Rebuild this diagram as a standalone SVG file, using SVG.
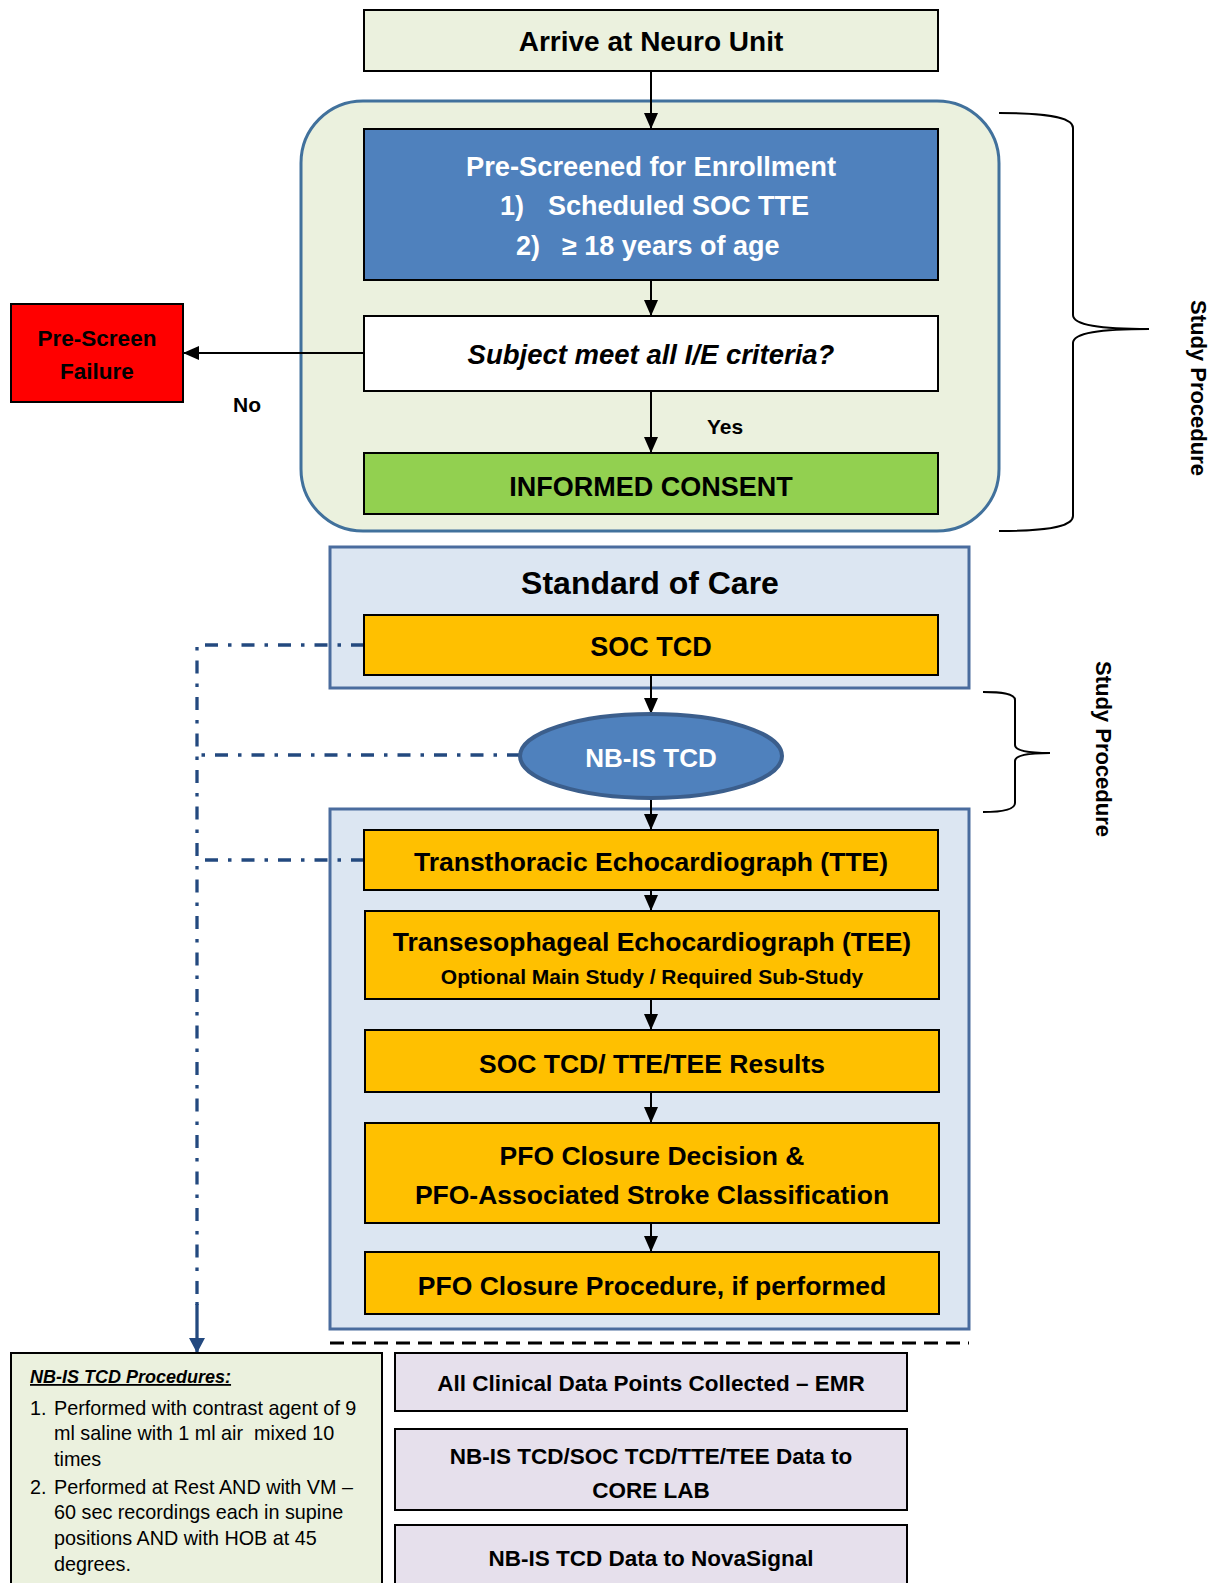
<svg xmlns="http://www.w3.org/2000/svg" width="1210" height="1583" viewBox="0 0 1210 1583">
<style>
text{font-family:"Liberation Sans",Arial,sans-serif;font-weight:bold;fill:#000}
.c{text-anchor:middle}
.w{fill:#fff}
.box{stroke:#000;stroke-width:2}
.y{fill:#FFC000}
.p{fill:#E6E0EC}
.g{fill:#EBF1DE}
.arr{stroke:#000;stroke-width:2;fill:none;marker-end:url(#ah)}
.dd{stroke:#23497F;stroke-width:3.3;fill:none;stroke-dasharray:13 10 3.5 10}
.n{font-weight:normal;font-size:19.8px;white-space:pre}
</style>
<defs>
<marker id="ah" viewBox="0 0 16 14" refX="16" refY="7" markerWidth="16" markerHeight="14" markerUnits="userSpaceOnUse" orient="auto">
<path d="M0,0 L16,7 L0,14 Z" fill="#000"/>
</marker>
<marker id="ahb" viewBox="0 0 15 16" refX="15" refY="8" markerWidth="15" markerHeight="16" markerUnits="userSpaceOnUse" orient="auto">
<path d="M0,0 L15,8 L0,16 Z" fill="#23497F"/>
</marker>
</defs>

<g id="study-container">
<rect x="301" y="101" width="698" height="430" rx="62" fill="#EBF1DE" stroke="#41719C" stroke-width="3"/>
</g>
<g id="soc-container">
<rect x="330" y="547" width="639" height="141" fill="#DCE6F2" stroke="#4A6C9E" stroke-width="3"/>
<text class="c" x="650" y="594" font-size="32">Standard of Care</text>
</g>
<g id="procedure-container">
<rect x="330" y="809" width="639" height="520" fill="#DCE6F2" stroke="#4A6C9E" stroke-width="3"/>
</g>

<g id="connectors">
<line class="arr" x1="651" y1="71" x2="651" y2="129"/>
<line class="arr" x1="651" y1="280" x2="651" y2="316"/>
<line class="arr" x1="651" y1="391" x2="651" y2="453"/>
<line class="arr" x1="364" y1="353" x2="183" y2="353"/>
<line class="arr" x1="651" y1="675" x2="651" y2="714"/>
<line class="arr" x1="651" y1="798" x2="651" y2="830"/>
<line class="arr" x1="651" y1="890" x2="651" y2="911"/>
<line class="arr" x1="651" y1="999" x2="651" y2="1030"/>
<line class="arr" x1="651" y1="1092" x2="651" y2="1123"/>
<line class="arr" x1="651" y1="1223" x2="651" y2="1252"/>
<path class="dd" d="M364,645 L197,645 L197,1305"/>
<path d="M197,1302 L197,1353" stroke="#23497F" stroke-width="3.3" marker-end="url(#ahb)"/>
<path class="dd" d="M520,755 L197,755"/>
<path class="dd" d="M364,860 L197,860"/>
<line x1="330" y1="1343" x2="969" y2="1343" stroke="#000" stroke-width="3" stroke-dasharray="14 8"/>
<text class="c" x="247" y="412" font-size="21">No</text>
<text class="c" x="725" y="434" font-size="21">Yes</text>
</g>

<g id="arrive">
<rect class="box g" x="364" y="10" width="574" height="61"/>
<text class="c" x="651" y="50.5" font-size="28">Arrive at Neuro Unit</text>
</g>
<g id="prescreened">
<rect class="box" x="364" y="129" width="574" height="151" fill="#4F81BD"/>
<text class="c w" x="651" y="175.5" font-size="27.3">Pre-Screened for Enrollment</text>
<text class="w" y="215" font-size="27"><tspan x="500">1)</tspan><tspan x="548">Scheduled SOC TTE</tspan></text>
<text class="w" y="255" font-size="27"><tspan x="516">2)</tspan><tspan x="562">≥ 18 years of age</tspan></text>
</g>
<g id="criteria">
<rect class="box" x="364" y="316" width="574" height="75" fill="#fff"/>
<text class="c" x="651" y="364" font-size="27.5" font-style="italic">Subject meet all I/E criteria?</text>
</g>
<g id="consent">
<rect class="box" x="364" y="453" width="574" height="61" fill="#92D050"/>
<text class="c" x="651" y="495.5" font-size="27">INFORMED CONSENT</text>
</g>
<g id="prescreen-failure">
<rect class="box" x="11" y="304" width="172" height="98" fill="#FF0000"/>
<text class="c" x="97" y="346" font-size="22.5">Pre-Screen</text>
<text class="c" x="97" y="379" font-size="22.5">Failure</text>
</g>

<g id="brace1">
<path d="M999,113 C1040,113 1073,116 1073,128 L1073,315 C1073,325 1100,329 1149,329 C1100,329 1073,333 1073,343 L1073,516 C1073,528 1040,531 999,531" fill="none" stroke="#000" stroke-width="2"/>
<text class="c" transform="translate(1198,388) rotate(90)" x="0" y="7" font-size="22">Study Procedure</text>
</g>
<g id="brace2">
<path d="M983,692 C1000,692 1015,693 1015,700 L1015,745 C1015,750 1025,753 1050,753 C1025,753 1015,756 1015,761 L1015,803 C1015,810 1000,812 983,812" fill="none" stroke="#000" stroke-width="2"/>
<text class="c" transform="translate(1103,749) rotate(90)" x="0" y="7" font-size="22">Study Procedure</text>
</g>

<g id="soc-tcd">
<rect class="box y" x="364" y="615" width="574" height="60"/>
<text class="c" x="651" y="656" font-size="27">SOC TCD</text>
</g>
<g id="nbis-tcd">
<ellipse cx="651" cy="756" rx="131" ry="42" fill="#4F81BD" stroke="#3B5E8C" stroke-width="4"/>
<text class="c w" x="651" y="767" font-size="26">NB-IS TCD</text>
</g>
<g id="tte">
<rect class="box y" x="364" y="830" width="574" height="60"/>
<text class="c" x="651" y="871" font-size="26.5">Transthoracic Echocardiograph (TTE)</text>
</g>
<g id="tee">
<rect class="box y" x="365" y="911" width="574" height="88"/>
<text class="c" x="652" y="951" font-size="26.5">Transesophageal Echocardiograph (TEE)</text>
<text class="c" x="652" y="983.5" font-size="21">Optional Main Study / Required Sub-Study</text>
</g>
<g id="results">
<rect class="box y" x="365" y="1030" width="574" height="62"/>
<text class="c" x="652" y="1073" font-size="26.5">SOC TCD/ TTE/TEE Results</text>
</g>
<g id="pfo-decision">
<rect class="box y" x="365" y="1123" width="574" height="100"/>
<text class="c" x="652" y="1164.5" font-size="26.5">PFO Closure Decision &amp;</text>
<text class="c" x="652" y="1204" font-size="26.5">PFO-Associated Stroke Classification</text>
</g>
<g id="pfo-procedure">
<rect class="box y" x="365" y="1252" width="574" height="62"/>
<text class="c" x="652" y="1295" font-size="26.5">PFO Closure Procedure, if performed</text>
</g>

<g id="notes">
<rect class="box g" x="11" y="1353" width="371" height="245"/>
<text x="30" y="1383" font-size="18" font-style="italic" text-decoration="underline">NB-IS TCD Procedures:</text>
<text class="n" x="30" y="1415">1.</text>
<text class="n" x="54" y="1415">Performed with contrast agent of 9</text>
<text class="n" x="54" y="1440">ml saline with 1 ml air  mixed 10</text>
<text class="n" x="54" y="1466">times</text>
<text class="n" x="30" y="1494">2.</text>
<text class="n" x="54" y="1494">Performed at Rest AND with VM –</text>
<text class="n" x="54" y="1519">60 sec recordings each in supine</text>
<text class="n" x="54" y="1545">positions AND with HOB at 45</text>
<text class="n" x="54" y="1571">degrees.</text>
</g>
<g id="emr">
<rect class="box p" x="395" y="1353" width="512" height="58"/>
<text class="c" x="651" y="1391" font-size="22.5">All Clinical Data Points Collected – EMR</text>
</g>
<g id="corelab">
<rect class="box p" x="395" y="1429" width="512" height="81"/>
<text class="c" x="651" y="1464" font-size="22.5">NB-IS TCD/SOC TCD/TTE/TEE Data to</text>
<text class="c" x="651" y="1498" font-size="22.5">CORE LAB</text>
</g>
<g id="novasignal">
<rect class="box p" x="395" y="1525" width="512" height="75"/>
<text class="c" x="651" y="1566" font-size="22.5">NB-IS TCD Data to NovaSignal</text>
</g>
</svg>
